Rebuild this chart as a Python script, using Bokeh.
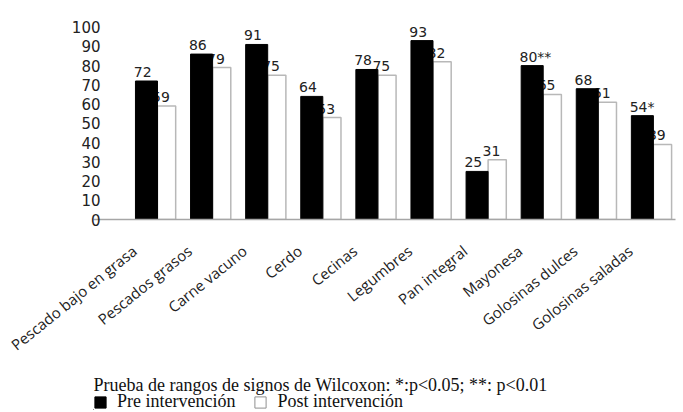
from bokeh.plotting import figure
from bokeh.layouts import column
from bokeh.models import (Range1d, FixedTicker, ColumnDataSource,
                          Legend, LegendItem)
from bokeh.transform import dodge
from bokeh.core.properties import value
from bokeh.embed import file_html
from bokeh.resources import INLINE

# ---- data ----
categories = ["Pescado bajo en grasa", "Pescados grasos", "Carne vacuno", "Cerdo",
              "Cecinas", "Legumbres", "Pan integral", "Mayonesa",
              "Golosinas dulces", "Golosinas saladas"]
pre = [72, 86, 91, 64, 78, 93, 25, 80, 68, 54]
post = [59, 79, 75, 53, 75, 82, 31, 65, 61, 39]
significance = ["", "", "", "", "", "", "", "**", "", "*"]
y_ticks = [0, 10, 20, 30, 40, 50, 60, 70, 80, 90, 100]
footnote = "Prueba de rangos de signos de Wilcoxon: *:p<0.05; **: p<0.01"
series_names = ["Pre intervención", "Post intervención"]

idx = list(range(len(categories)))
src = ColumnDataSource(dict(
    x=idx, pre=pre, post=post,
    pre_lbl=[f"{v}{s}" for v, s in zip(pre, significance)],
    post_lbl=[str(v) for v in post],
))

W = 680
LEFT, RIGHT = 93, 5
fig = figure(width=W, height=365, output_backend="svg", toolbar_location=None,
             x_range=Range1d(-1.1615, 9.401), y_range=Range1d(0, 104.5),
             min_border_left=LEFT, min_border_right=RIGHT, min_border_top=18,
             min_border_bottom=142)
fig.outline_line_color = None
fig.xgrid.visible = False
fig.ygrid.visible = False
fig.background_fill_color = "white"
fig.border_fill_color = "white"

num_font = "DejaVu Sans"

# white (post) bars and their labels drawn first, so black bars overlap them
r_post = fig.vbar(x=dodge("x", 0.165, range=fig.x_range), top="post", width=0.33,
                  source=src, fill_color="white", line_color="#b8b8b8", line_width=1.5)
fig.text(x=dodge("x", -0.1, range=fig.x_range), y="post", text="post_lbl", source=src,
         text_font=value(num_font), text_font_size="14px", text_color="#222222",
         text_align="left", text_baseline="alphabetic", y_offset=-9)

r_pre = fig.vbar(x=dodge("x", -0.2, range=fig.x_range), top="pre", width=0.40,
                 source=src, fill_color="black", line_color="black")
fig.text(x=dodge("x", -0.43, range=fig.x_range), y="pre", text="pre_lbl", source=src,
         text_font=value(num_font), text_font_size="14px", text_color="#222222",
         text_align="left", text_baseline="alphabetic", y_offset=-9)

# axes
fig.yaxis.ticker = FixedTicker(ticks=y_ticks)
fig.yaxis.axis_line_color = None
fig.yaxis.major_tick_line_color = None
fig.yaxis.minor_tick_line_color = None
fig.yaxis.major_tick_out = 0
fig.yaxis.major_label_standoff = -7
fig.yaxis.major_label_text_font = num_font
fig.yaxis.major_label_text_font_size = "15px"
fig.yaxis.major_label_text_color = "#222222"

label_shift = -0.42
label_ticks = [i + label_shift for i in idx]
fig.xaxis.ticker = FixedTicker(ticks=label_ticks)
fig.xaxis.major_label_overrides = {t: c for t, c in zip(label_ticks, categories)}
fig.xaxis.major_label_orientation = 0.68
fig.xaxis.axis_line_color = "#a6a6a6"
fig.xaxis.axis_line_width = 1.5
fig.xaxis.major_tick_line_color = None
fig.xaxis.minor_tick_line_color = None
fig.xaxis.major_tick_out = 0
fig.xaxis.major_label_standoff = 29
fig.xaxis.major_label_text_font = "Open Sans"
fig.xaxis.major_label_text_font_size = "15px"
fig.xaxis.major_label_text_color = "#222222"

# ---- footnote + legend strip (frame aligned with the chart frame: LEFT..W-RIGHT) ----
H2 = 45
foot = figure(width=W, height=H2, output_backend="svg", toolbar_location=None,
              title=None,
              x_range=Range1d(LEFT, W - RIGHT), y_range=Range1d(0, H2),
              x_axis_location=None, y_axis_location=None,
              min_border_left=LEFT, min_border_right=RIGHT, min_border_top=0,
              min_border_bottom=0)
foot.grid.visible = False
foot.outline_line_color = None
foot.background_fill_color = "white"
foot.border_fill_color = "white"
foot.text(x=[LEFT], y=[26], text=[footnote], text_font=value("Liberation Serif"),
          text_font_size="18px", text_color="#111111", text_baseline="alphabetic")

d_pre = foot.vbar(x=[-100], top=[1], width=1, fill_color="black", line_color="black")
d_post = foot.vbar(x=[-100], top=[1], width=1, fill_color="white", line_color="#909090")
legend = Legend(items=[LegendItem(label=series_names[0], renderers=[d_pre]),
                       LegendItem(label=series_names[1], renderers=[d_post])],
                location=(0, -2), orientation="horizontal",
                border_line_color=None, background_fill_alpha=0,
                padding=0, margin=0, spacing=18, label_standoff=10,
                glyph_width=14, glyph_height=14,
                label_text_font="Liberation Serif", label_text_font_size="18px",
                label_text_color="#111111")
foot.add_layout(legend, "center")

p = column(fig, foot, spacing=0)

open("out.html", "w").write(file_html(p, INLINE))
